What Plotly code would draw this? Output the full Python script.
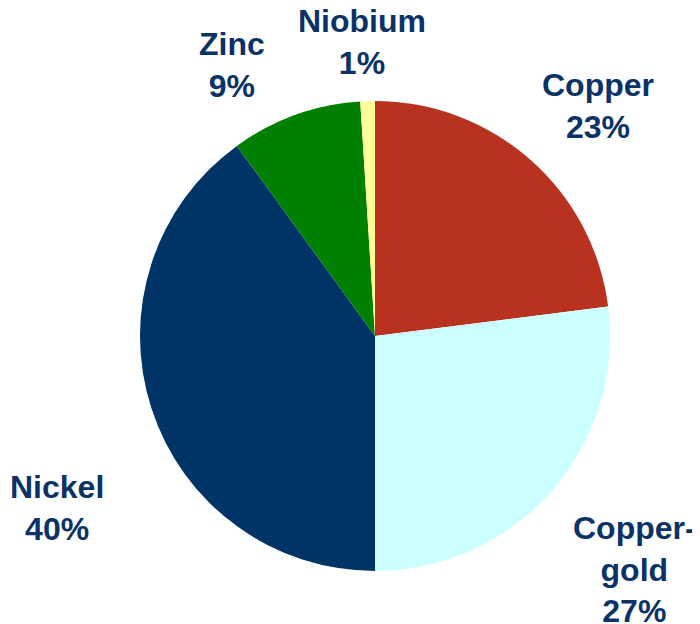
import plotly.graph_objects as go

labels = ["Copper", "Copper-gold", "Nickel", "Zinc", "Niobium"]
values = [23, 27, 40, 9, 1]
colors = ["#B93220", "#CCFFFF", "#003366", "#008000", "#FFFF99"]

# label block centres in pixels (layout, not data)
label_pos = [(598, 106), (634, 569), (57, 508), (232, 65), (362, 42)]

W, H = 700, 624
OFF = 8  # page body margin
cx, cy, r = 375 - OFF, 336 - OFF, 235

fig = go.Figure(go.Pie(
    labels=labels,
    values=values,
    marker=dict(colors=colors, line=dict(width=0)),
    sort=False,
    direction="clockwise",
    rotation=0,
    textinfo="none",
    hoverinfo="label+percent",
    showlegend=False,
    domain=dict(x=[(cx - r) / W, (cx + r) / W], y=[1 - (cy + r) / H, 1 - (cy - r) / H]),
))

total = sum(values)
for lab, v, (px, py) in zip(labels, values, label_pos):
    name = lab.replace("Copper-gold", "Copper-<br>gold")
    pct = round(100 * v / total)
    fig.add_annotation(
        x=(px - OFF) / W, y=1 - (py - OFF) / H, xref="paper", yref="paper",
        xanchor="center", yanchor="middle", showarrow=False,
        text=f"<b>{name}<br>{pct}%</b>",
        font=dict(family="Liberation Sans, Arial, sans-serif", size=32, color="#0A3266"),
        align="center",
    )

fig.update_layout(
    width=W, height=H,
    margin=dict(l=0, r=0, t=0, b=0),
    paper_bgcolor="white",
    plot_bgcolor="white",
)

fig.write_html("out.html")
